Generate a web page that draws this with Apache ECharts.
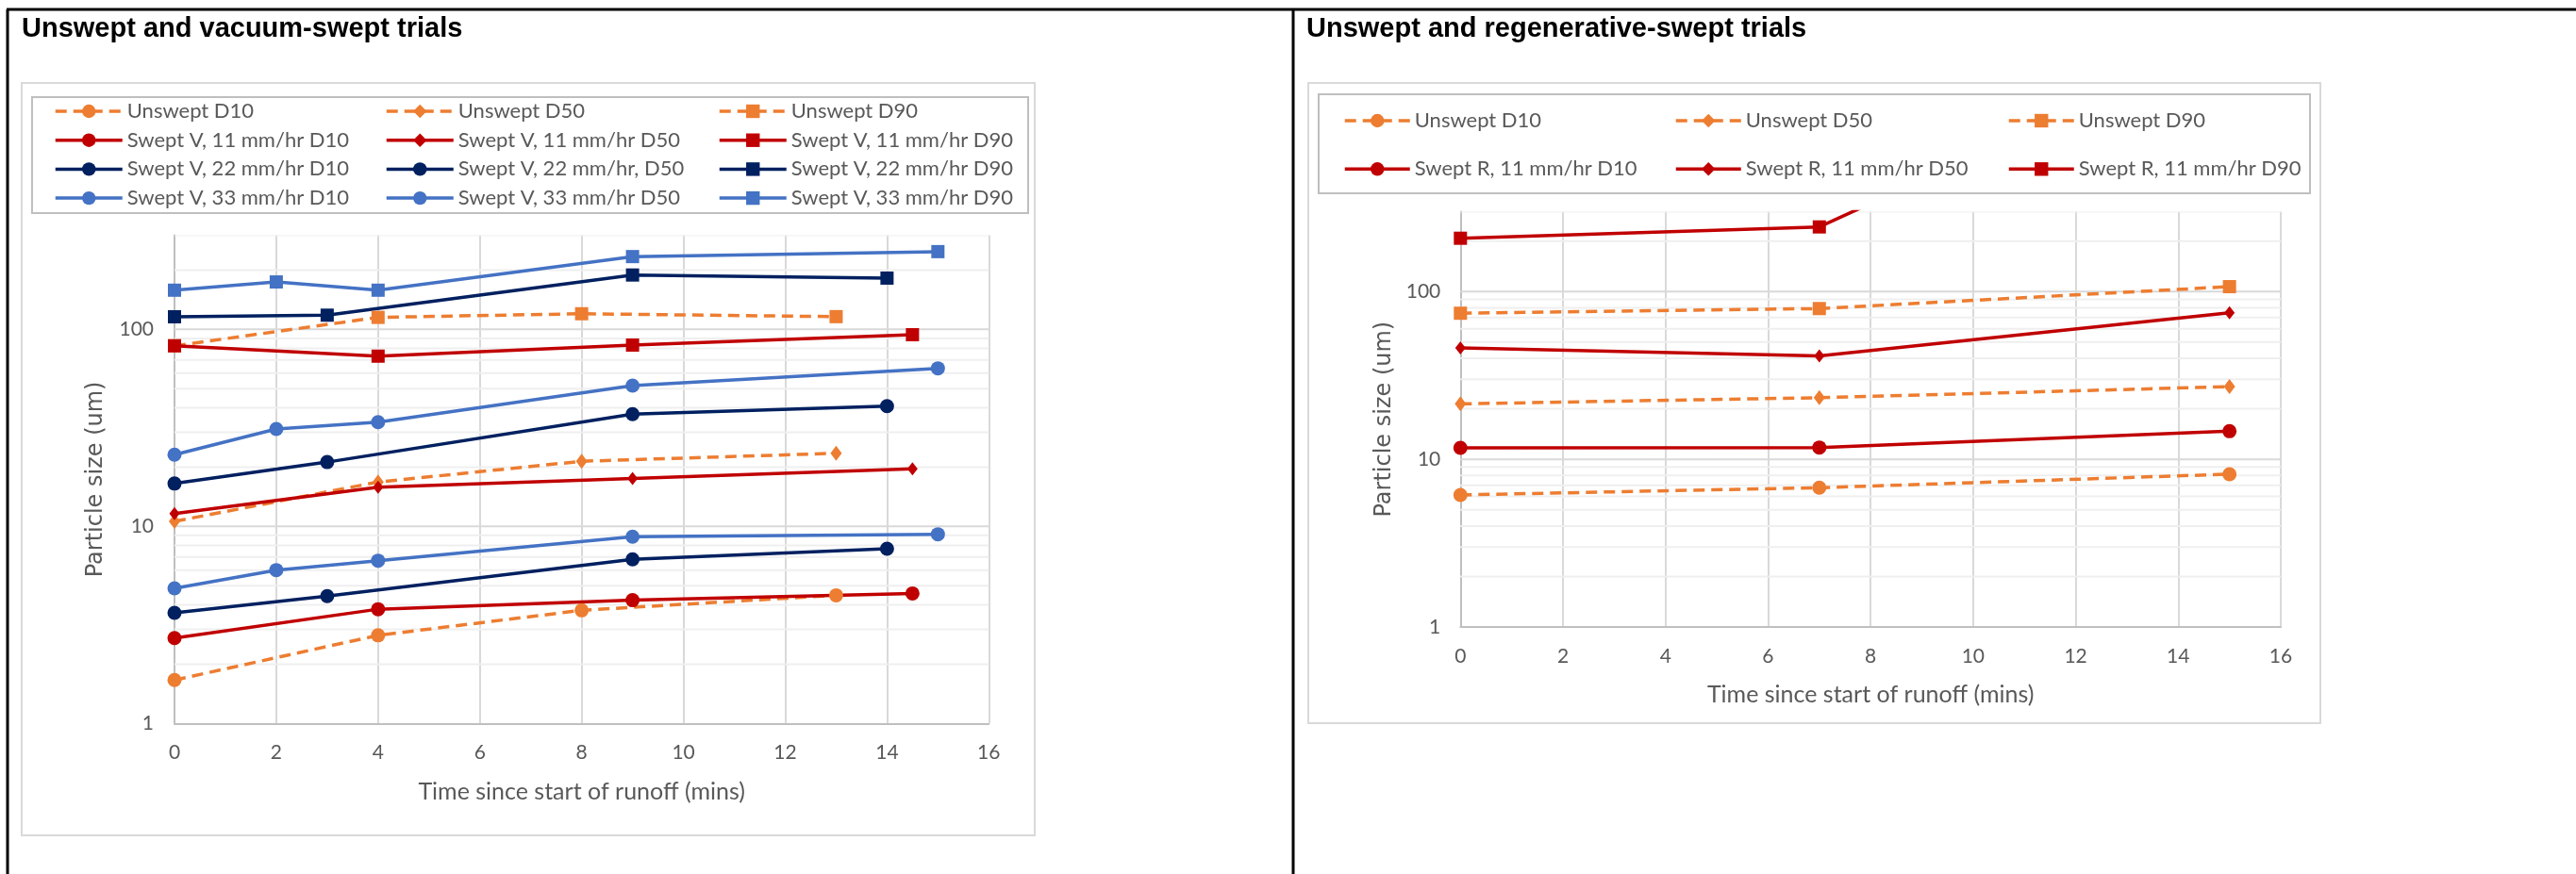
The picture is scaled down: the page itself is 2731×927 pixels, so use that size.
<!DOCTYPE html>
<html>
<head>
<meta charset="utf-8">
<script src="https://cdn.jsdelivr.net/npm/echarts@6/dist/echarts.min.js"></script>
<style>
  html, body { margin: 0; padding: 0; background: #ffffff; }
  #chart { width: 2731px; height: 927px; }
</style>
</head>
<body>
<div id="chart"></div>
<script>
// ---- Axis ticks and ranges ----
const timeTicks = [0, 2, 4, 6, 8, 10, 12, 14, 16];          // minutes
const sizeTicks = [1, 10, 100];                              // um (labelled decades)
const sizeRange = [1, 300];
const sizeMajorLines = [10, 100];
const sizeMinorLines = [2, 3, 4, 5, 6, 7, 8, 9, 20, 30, 40, 50, 60, 70, 80, 90, 200, 300];

// ---- Unswept and vacuum-swept trials ----
const vacUnsweptTime = [0, 4, 8, 13];
const vacUnsweptD10 = [1.66, 2.8, 3.75, 4.47];
const vacUnsweptD50 = [10.6, 16.8, 21.4, 23.5];
const vacUnsweptD90 = [82.5, 115, 120, 116];

const v11Time = [0, 4, 9, 14.5];
const v11D10 = [2.71, 3.8, 4.22, 4.57];
const v11D50 = [11.6, 15.8, 17.5, 19.6];
const v11D90 = [82.5, 73.1, 83.2, 93.9];

const v22Time = [0, 3, 9, 14];
const v22D10 = [3.64, 4.43, 6.8, 7.7];
const v22D50 = [16.5, 21.2, 37.1, 40.8];
const v22D90 = [115.8, 118, 188.7, 182];

const v33Time = [0, 2, 4, 9, 15];
const v33D10 = [4.85, 6.0, 6.7, 8.86, 9.12];
const v33D50 = [23.1, 31.2, 33.8, 51.8, 63.4];
const v33D90 = [158, 174, 158, 234, 248];

// ---- Unswept and regenerative-swept trials ----
const regenTime = [0, 7, 15];
const regUnsweptD10 = [6.13, 6.77, 8.15];
const regUnsweptD50 = [21.4, 23.3, 27.1];
const regUnsweptD90 = [74.3, 79.2, 107];
const r11D10 = [11.7, 11.75, 14.7];
const r11D50 = [46.2, 41.3, 74.8];
const r11D90 = [208, 243, 3200];

// ---- Styling ----
const ORANGE = '#ED7D31', RED = '#C00000', NAVY = '#002060', BLUE = '#4472C4';
const TEXT_GREY = '#595959';
const BODY_FONT = 'Lato';

const MARK = {
  circle: { symbol: 'circle', size: 15 },
  diamond: { symbol: 'diamond', size: [12, 16] },
  smallDiamond: { symbol: 'diamond', size: [11, 14] },
  square: { symbol: 'rect', size: 14 }
};

function lineSeries(name, times, values, color, mark, dashed, axis) {
  return {
    type: 'line',
    name: name,
    xAxisIndex: axis,
    yAxisIndex: axis,
    data: times.map((t, i) => [t, values[i]]),
    symbol: mark.symbol,
    symbolSize: mark.size,
    showAllSymbol: true,
    clip: true,
    z: 3,
    lineStyle: { color: color, width: 3.5, type: dashed ? [12, 7] : 'solid' },
    itemStyle: { color: color, borderWidth: 0 },
    emphasis: { disabled: true }
  };
}

// Horizontal log gridlines at 2..9 × each decade, drawn through the y scale
function hLineSeries(axis, values, color) {
  return {
    type: 'custom',
    xAxisIndex: axis,
    yAxisIndex: axis,
    silent: true,
    z: 1,
    clip: true,
    data: values.map(v => [0, v]),
    renderItem(params, api) {
      const cs = params.coordSys;
      const y = api.coord([0, api.value(1)])[1];
      return {
        type: 'line',
        shape: { x1: cs.x, y1: y, x2: cs.x + cs.width, y2: y },
        style: { stroke: color, lineWidth: 2 }
      };
    }
  };
}

function xAxisFor(grid, labelMargin, nameGap) {
  return {
    type: 'value',
    gridIndex: grid,
    min: timeTicks[0],
    max: timeTicks[timeTicks.length - 1],
    interval: timeTicks[1] - timeTicks[0],
    axisLine: { show: true, onZero: false, lineStyle: { color: '#bfbfbf', width: 2 } },
    axisTick: { show: false },
    splitLine: { show: true, lineStyle: { color: '#d9d9d9', width: 2 } },
    axisLabel: { color: TEXT_GREY, fontSize: 21, fontFamily: BODY_FONT, margin: labelMargin },
    name: 'Time since start of runoff (mins)',
    nameLocation: 'middle',
    nameGap: nameGap,
    nameTextStyle: { color: TEXT_GREY, fontSize: 25, fontFamily: BODY_FONT }
  };
}

function yAxisFor(grid, labelMargin, nameGap) {
  return {
    type: 'log',
    logBase: 10,
    gridIndex: grid,
    min: sizeRange[0],
    max: sizeRange[1],
    axisLine: { show: true, lineStyle: { color: '#bfbfbf', width: 2 } },
    axisTick: { show: false },
    splitLine: { show: false },
    minorTick: { show: false },
    minorSplitLine: { show: false },
    axisLabel: {
      color: TEXT_GREY, fontSize: 21, fontFamily: BODY_FONT, margin: labelMargin,
      showMaxLabel: false,
      formatter: function (v) {
        const t = sizeTicks.find(s => Math.abs(Math.log10(v) - Math.log10(s)) < 1e-6);
        return t === undefined ? '' : String(t);
      }
    },
    name: 'Particle size (um)',
    nameLocation: 'middle',
    nameGap: nameGap,
    nameTextStyle: { color: TEXT_GREY, fontSize: 24, fontFamily: 'DejaVu Sans' }
  };
}

function legendColumn(left, top, names, itemWidth, gap) {
  return {
    orient: 'vertical',
    left: left,
    top: top,
    padding: 0,
    itemGap: gap,
    itemWidth: itemWidth,
    itemHeight: 18,
    selectedMode: false,
    lineStyle: { width: 3.5 },
    data: names,
    textStyle: { color: TEXT_GREY, fontSize: 22, lineHeight: 22, fontFamily: BODY_FONT }
  };
}

const titleStyle = { color: '#000000', fontSize: 29, fontWeight: 'bold', fontFamily: 'Liberation Sans' };

const series = [
  // gridlines
  hLineSeries(0, sizeMinorLines, '#efefef'),
  hLineSeries(0, sizeMajorLines, '#d9d9d9'),
  hLineSeries(1, sizeMinorLines, '#efefef'),
  hLineSeries(1, sizeMajorLines, '#d9d9d9'),
  // vacuum-swept panel
  lineSeries('Unswept D10', vacUnsweptTime, vacUnsweptD10, ORANGE, MARK.circle, true, 0),
  lineSeries('Unswept D50', vacUnsweptTime, vacUnsweptD50, ORANGE, MARK.diamond, true, 0),
  lineSeries('Unswept D90', vacUnsweptTime, vacUnsweptD90, ORANGE, MARK.square, true, 0),
  lineSeries('Swept V, 11 mm/hr D10', v11Time, v11D10, RED, MARK.circle, false, 0),
  lineSeries('Swept V, 11 mm/hr D50', v11Time, v11D50, RED, MARK.smallDiamond, false, 0),
  lineSeries('Swept V, 11 mm/hr D90', v11Time, v11D90, RED, MARK.square, false, 0),
  lineSeries('Swept V, 22 mm/hr D10', v22Time, v22D10, NAVY, MARK.circle, false, 0),
  lineSeries('Swept V, 22 mm/hr, D50', v22Time, v22D50, NAVY, MARK.circle, false, 0),
  lineSeries('Swept V, 22 mm/hr D90', v22Time, v22D90, NAVY, MARK.square, false, 0),
  lineSeries('Swept V, 33 mm/hr D10', v33Time, v33D10, BLUE, MARK.circle, false, 0),
  lineSeries('Swept V, 33 mm/hr D50', v33Time, v33D50, BLUE, MARK.circle, false, 0),
  lineSeries('Swept V, 33 mm/hr D90', v33Time, v33D90, BLUE, MARK.square, false, 0),
  // regenerative-swept panel
  lineSeries('Unswept D10', regenTime, regUnsweptD10, ORANGE, MARK.circle, true, 1),
  lineSeries('Unswept D50', regenTime, regUnsweptD50, ORANGE, MARK.diamond, true, 1),
  lineSeries('Unswept D90', regenTime, regUnsweptD90, ORANGE, MARK.square, true, 1),
  lineSeries('Swept R, 11 mm/hr D10', regenTime, r11D10, RED, MARK.circle, false, 1),
  lineSeries('Swept R, 11 mm/hr D50', regenTime, r11D50, RED, MARK.smallDiamond, false, 1),
  lineSeries('Swept R, 11 mm/hr D90', regenTime, r11D90, RED, MARK.square, false, 1)
];

const frame = (x1, y1, x2, y2, color) => ({
  type: 'rect', silent: true, z: 0,
  shape: { x: x1, y: y1, width: x2 - x1, height: y2 - y1 },
  style: { fill: null, stroke: color, lineWidth: 2 }
});
const rule = (x1, y1, x2, y2) => ({
  type: 'line', silent: true, z: 10,
  shape: { x1: x1, y1: y1, x2: x2, y2: y2 },
  style: { stroke: '#000000', lineWidth: 3 }
});

const option = {
  animation: false,
  backgroundColor: '#ffffff',
  title: [
    { text: 'Unswept and vacuum-swept trials', left: 23, top: 16, padding: 0, textStyle: titleStyle },
    { text: 'Unswept and regenerative-swept trials', left: 1385, top: 16, padding: 0, textStyle: titleStyle }
  ],
  legend: [
    legendColumn(57, 107, ['Unswept D10', 'Swept V, 11 mm/hr D10', 'Swept V, 22 mm/hr D10', 'Swept V, 33 mm/hr D10'], 71, 8.7),
    legendColumn(408, 107, ['Unswept D50', 'Swept V, 11 mm/hr D50', 'Swept V, 22 mm/hr, D50', 'Swept V, 33 mm/hr D50'], 71, 8.7),
    legendColumn(761, 107, ['Unswept D90', 'Swept V, 11 mm/hr D90', 'Swept V, 22 mm/hr D90', 'Swept V, 33 mm/hr D90'], 71, 8.7),
    legendColumn(1424, 117, ['Unswept D10', 'Swept R, 11 mm/hr D10'], 69, 29.3),
    legendColumn(1775, 117, ['Unswept D50', 'Swept R, 11 mm/hr D50'], 69, 29.3),
    legendColumn(2128, 117, ['Unswept D90', 'Swept R, 11 mm/hr D90'], 69, 29.3)
  ],
  grid: [
    { left: 185, top: 249.6, width: 863.3, height: 517.7, outerBoundsMode: 'none', containLabel: false },
    { left: 1548.3, top: 224.4, width: 869.7, height: 440.6, outerBoundsMode: 'none', containLabel: false }
  ],
  xAxis: [xAxisFor(0, 20, 60), xAxisFor(1, 21, 59)],
  yAxis: [yAxisFor(0, 22, 71), yAxisFor(1, 21, 69)],
  graphic: [
    frame(23, 88, 1097, 886, '#d9d9d9'),
    frame(34, 103, 1090, 226, '#bfbfbf'),
    frame(1387, 88, 2460, 767, '#d9d9d9'),
    frame(1398, 100, 2449, 205, '#bfbfbf'),
    rule(7, 10, 2731, 10),
    rule(8, 10, 8, 927),
    rule(1371, 10, 1371, 927)
  ],
  series: series
};

const chart = echarts.init(document.getElementById('chart'), null, { renderer: 'canvas' });
chart.setOption(option);
</script>
</body>
</html>
